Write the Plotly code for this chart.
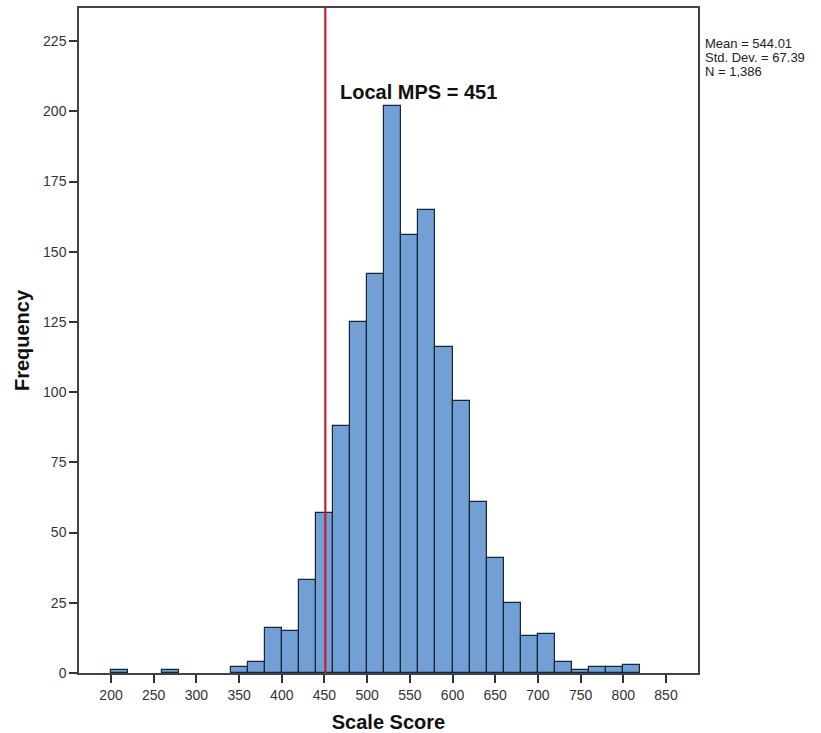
import plotly.graph_objects as go

bin_starts = list(range(200, 820, 20))
counts = [1, 0, 0, 1, 0, 0, 0, 2, 4, 16, 15, 33, 57, 88, 125, 142, 202, 156, 165,
          116, 97, 61, 41, 25, 13, 14, 4, 1, 2, 2, 3]
bin_width = 20
mps_value = 451
x_ticks = list(range(200, 900, 50))
y_ticks = list(range(0, 250, 25))
stats_lines = ["Mean = 544.01", "Std. Dev. = 67.39", "N = 1,386"]

# only draw non-empty bins
centers = [s + bin_width / 2 for s, c in zip(bin_starts, counts) if c > 0]
heights = [c for c in counts if c > 0]

FONT = "Arial, Liberation Sans, sans-serif"
TOP, BOTTOM = 8, 673
PLOT_H = BOTTOM - TOP


def paper_y(px):
    return (BOTTOM - px) / PLOT_H


fig = go.Figure()
fig.add_trace(go.Bar(
    x=centers, y=heights, width=[bin_width] * len(centers),
    marker=dict(color="#72a0d4", line=dict(color="#16263a", width=1.2)),
    hoverinfo="x+y", showlegend=False,
))

fig.add_shape(type="line", x0=mps_value, x1=mps_value, y0=0, y1=1, yref="paper",
              line=dict(color="#c0202a", width=2.2))

fig.add_annotation(x=560, y=paper_y(92), xref="x", yref="paper",
                   text="<b>Local MPS = 451</b>", showarrow=False,
                   xanchor="center", yanchor="middle",
                   font=dict(family=FONT, size=20, color="#111111"))

for i, line in enumerate(stats_lines):
    fig.add_annotation(x=1.009, y=paper_y(43 + i * 14.5), xref="paper", yref="paper",
                       text=line, showarrow=False, xanchor="left", yanchor="middle",
                       align="left", borderpad=0,
                       font=dict(family=FONT, size=13, color="#222222"))

fig.update_layout(
    width=821, height=733,
    margin=dict(l=79, r=123, t=TOP, b=733 - BOTTOM, autoexpand=False),
    paper_bgcolor="white", plot_bgcolor="white",
    bargap=0,
    font=dict(family=FONT, color="#333333"),
    xaxis=dict(
        range=[162.5, 887.5], tickvals=x_ticks, ticks="outside", ticklen=8,
        tickwidth=1.5, tickcolor="#333333", showgrid=False, zeroline=False,
        showline=True, linecolor="#444444", linewidth=1.5, mirror=True,
        automargin=False,
        tickfont=dict(size=14, color="#333333"),
        title=dict(text="<b>Scale Score</b>", font=dict(size=20, color="#111111"), standoff=16),
    ),
    yaxis=dict(
        range=[0, 236.8], tickvals=y_ticks, ticks="outside", ticklen=8,
        tickwidth=1.5, tickcolor="#333333", showgrid=False, zeroline=False,
        showline=True, linecolor="#444444", linewidth=1.5, mirror=True,
        automargin=False,
        tickfont=dict(size=14, color="#333333"),
        title=dict(text="<b>Frequency</b>", font=dict(size=20, color="#111111"), standoff=8),
    ),
)

fig.write_html("out.html")
